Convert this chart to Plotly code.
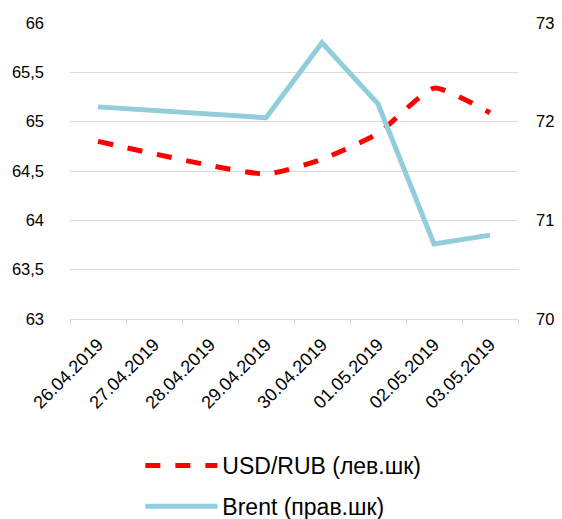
import plotly.graph_objects as go

dates = ["26.04.2019", "27.04.2019", "28.04.2019", "29.04.2019",
         "30.04.2019", "01.05.2019", "02.05.2019", "03.05.2019"]
usd_rub = [64.80, None, None, 64.47, 64.62, 64.88, 65.34, 65.09]
brent = [72.15, None, None, 72.04, 72.80, 72.18, 70.76, 70.85]

FONT = "Liberation Sans"

fig = go.Figure()
fig.add_trace(go.Scatter(
    x=dates, y=usd_rub, name="USD/RUB (лев.шк)", mode="lines",
    connectgaps=True, line=dict(color="#ff0000", width=5, dash="dash", shape="spline", smoothing=0.5),
    yaxis="y", legendgroup="a"))
fig.add_trace(go.Scatter(
    x=dates, y=brent, name="Brent (прав.шк)", mode="lines",
    connectgaps=True, line=dict(color="#92cddc", width=5),
    yaxis="y2", legendgroup="b"))

fig.update_layout(
    width=554, height=511,
    margin=dict(l=62, r=44, t=15, b=200, autoexpand=False),
    paper_bgcolor="white", plot_bgcolor="white",
    separators=", ",
    font=dict(family=FONT, size=17, color="#000000"),
    xaxis=dict(type="category", range=[-0.5, 7.5], tickangle=-45, tickson="boundaries",
               ticks="outside", ticklen=5, tickcolor="#d9d9d9",
               showline=True, linecolor="#d9d9d9", linewidth=1,
               showgrid=False, tickfont=dict(size=18), automargin=False,
               ticklabelstandoff=7),
    yaxis=dict(range=[63, 66], dtick=0.5, showgrid=True, gridcolor="#d9d9d9",
               gridwidth=1, zeroline=False, showline=False, ticks="",
               tickfont=dict(size=16.5), automargin=False, ticklabelstandoff=25),
    yaxis2=dict(range=[70, 73], dtick=1, overlaying="y", side="right",
                showgrid=False, zeroline=False, showline=False, ticks="",
                tickfont=dict(size=16.5), automargin=False, ticklabelstandoff=17),
    legend=dict(orientation="v", x=0.157, xanchor="left",
                y=-0.706, yanchor="bottom",
                font=dict(size=23), traceorder="grouped", tracegroupgap=8,
                itemwidth=72),
    showlegend=True,
)

fig.write_html("out.html")
